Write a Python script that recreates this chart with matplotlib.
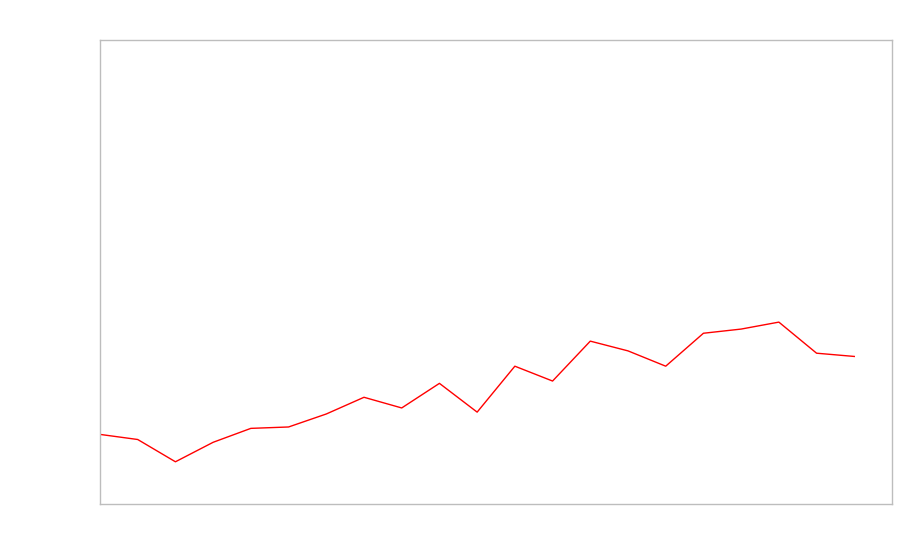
import matplotlib
matplotlib.use("Agg")
import matplotlib.pyplot as plt

# --- DATA ---
steps = list(range(21))
values = [15.0, 13.9, 9.1, 13.3, 16.3, 16.6, 19.4, 23.0, 20.7, 26.0, 19.8,
          29.7, 26.5, 35.1, 33.0, 29.7, 36.8, 37.7, 39.2, 32.5, 31.8]

fig = plt.figure(figsize=(9, 5.6), dpi=100)
ax = fig.add_axes([100 / 900, 56 / 560, 792 / 900, 464 / 560])

ax.plot(steps, values, color='red', linewidth=1.0)

ax.set_xlim(0, 21)
ax.set_ylim(0, 100)
ax.set_xticks([])
ax.set_yticks([])
for spine in ax.spines.values():
    spine.set_color('#bdbdbd')
    spine.set_linewidth(1.0)

fig.savefig("out.png", dpi=100)
